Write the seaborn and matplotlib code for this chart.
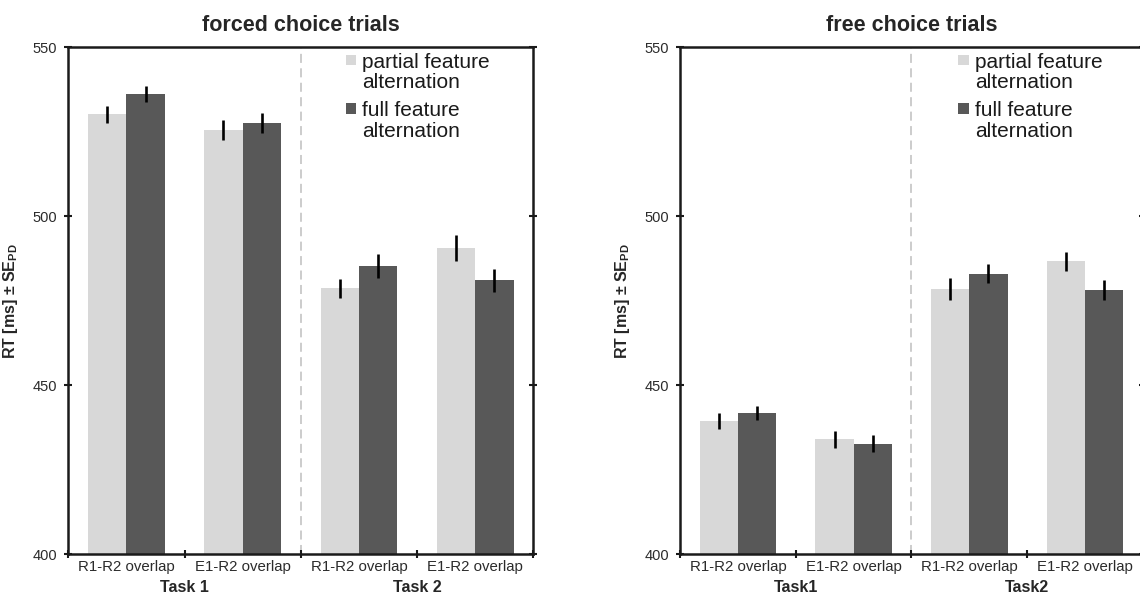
import numpy as np
import pandas as pd
import matplotlib
matplotlib.use('Agg')
import matplotlib.pyplot as plt
import seaborn as sns
from matplotlib.legend_handler import HandlerPatch
from matplotlib.patches import Rectangle

# ── Data ──────────────────────────────────────────────
cond_ids    = ['t1_r1r2', 't1_e1r2', 't2_r1r2', 't2_e1r2']
tick_labels = ['R1-R2 overlap', 'E1-R2 overlap', 'R1-R2 overlap', 'E1-R2 overlap']
alternation = ['partial feature\nalternation', 'full feature\nalternation']

forced_partial     = [530.2, 525.6, 478.6, 490.5]
forced_partial_err = [2.5, 3.0, 2.7, 3.8]
forced_full        = [536.1, 527.6, 485.2, 481.0]
forced_full_err    = [2.4, 3.0, 3.6, 3.4]

free_partial     = [439.4, 434.0, 478.4, 486.6]
free_partial_err = [2.3, 2.5, 3.2, 2.9]
free_full        = [441.7, 432.6, 483.0, 478.1]
free_full_err    = [2.0, 2.5, 2.8, 3.0]

forced_tasks = ['Task 1', 'Task 2']
free_tasks   = ['Task1', 'Task2']
y_ticks = [400, 450, 500, 550]

# ── Style ─────────────────────────────────────────────
sns.set_style('white')
plt.rcParams['font.family'] = ['Liberation Sans', 'DejaVu Sans']
plt.rcParams['mathtext.fontset'] = 'custom'
plt.rcParams['mathtext.bf'] = 'Liberation Sans:bold'
plt.rcParams['mathtext.rm'] = 'Liberation Sans'

colors = ['#d8d8d8', '#585858']
W, H = 1140, 598


def top_square(legend, orig_handle, xdescent, ydescent, width, height, fontsize):
    # square level with the first line of a two-line label
    s = 0.5 * fontsize
    x0 = -xdescent + width - s
    y0 = -ydescent + height / 2 - s / 2 + 0.6 * fontsize
    return Rectangle((x0, y0), s, s)


def draw_panel(ax, partial, partial_err, full, full_err, title, tasks, leg_x):
    df = pd.DataFrame({
        'cond': cond_ids * 2,
        'alt': [alternation[0]] * 4 + [alternation[1]] * 4,
        'rt': partial + full,
    })
    sns.barplot(data=df, x='cond', y='rt', hue='alt', order=cond_ids,
                hue_order=alternation, palette=colors, width=0.66,
                errorbar=None, linewidth=0, ax=ax)

    # error bars on the bar centres
    for cont, vals, errs in zip(ax.containers, [partial, full], [partial_err, full_err]):
        xs = [p.get_x() + p.get_width() / 2 for p in cont]
        ax.errorbar(xs, vals, yerr=errs, fmt='none', ecolor='black',
                    elinewidth=1.9, capsize=0, zorder=5)

    ax.set_ylim(400, 550)
    ax.set_xlim(-0.5, 3.5)
    ax.set_yticks(y_ticks)
    ax.set_xticks([-0.5, 0.5, 1.5, 2.5, 3.5])
    ax.set_xticklabels([])
    ax.set_xticks(range(4), minor=True)
    ax.set_xticklabels(tick_labels, minor=True)
    ax.tick_params(axis='x', which='minor', bottom=True, length=0, pad=4,
                   labelsize=10.8, labelcolor='#2b2b2b')
    ax.tick_params(axis='x', which='major', bottom=True, direction='inout',
                   length=6, width=1.5, color='#1a1a1a')
    ax.tick_params(axis='y', direction='inout', length=6, width=1.5,
                   color='#1a1a1a', pad=5, labelsize=10.5,
                   labelcolor='#2b2b2b', left=True, right=True)

    for sp in ax.spines.values():
        sp.set_visible(True)
        sp.set_linewidth(1.8)
        sp.set_color('#1a1a1a')

    ax.axvline(1.5, color='#c8c8c8', ls=(0, (5, 3)), lw=1.3, zorder=0)

    ax.set_xlabel('')
    ax.set_ylabel(r'RT [ms] ± SE$_\mathbf{PD}$', fontsize=11.5, fontweight='bold')
    ax.yaxis.set_label_coords(-0.104, 0.5)
    ax.set_title(title, fontsize=15.5, fontweight='bold', pad=12)

    tr = ax.get_xaxis_transform()
    for xpos, t in zip([0.5, 2.5], tasks):
        ax.text(xpos, -0.067, t, transform=tr, ha='center', va='center',
                fontsize=11.5, fontweight='bold')

    old = ax.get_legend()
    handles = old.legend_handles
    labels = [t.get_text() for t in old.get_texts()]
    old.remove()
    leg = ax.legend(handles, labels, loc='upper left', bbox_to_anchor=(leg_x, 1.0),
                    frameon=False, fontsize=15, handlelength=0.5, handleheight=0.5,
                    handletextpad=0.3, labelspacing=0.42, borderaxespad=0,
                    borderpad=0.25,
                    handler_map={h: HandlerPatch(patch_func=top_square) for h in handles})
    for t in leg.get_texts():
        t.set_linespacing(1.12)
        t.set_color('#1a1a1a')


fig = plt.figure(figsize=(W / 100, H / 100), dpi=100)
bottom = (H - 554) / H
height = (554 - 47.3) / H
ax1 = fig.add_axes([68.3 / W, bottom, 465 / W, height])
ax2 = fig.add_axes([680 / W, bottom, 463 / W, height])

draw_panel(ax1, forced_partial, forced_partial_err, forced_full, forced_full_err,
           'forced choice trials', forced_tasks, 0.585)
draw_panel(ax2, free_partial, free_partial_err, free_full, free_full_err,
           'free choice trials', free_tasks, 0.59)

fig.savefig('out.png', dpi=100)
